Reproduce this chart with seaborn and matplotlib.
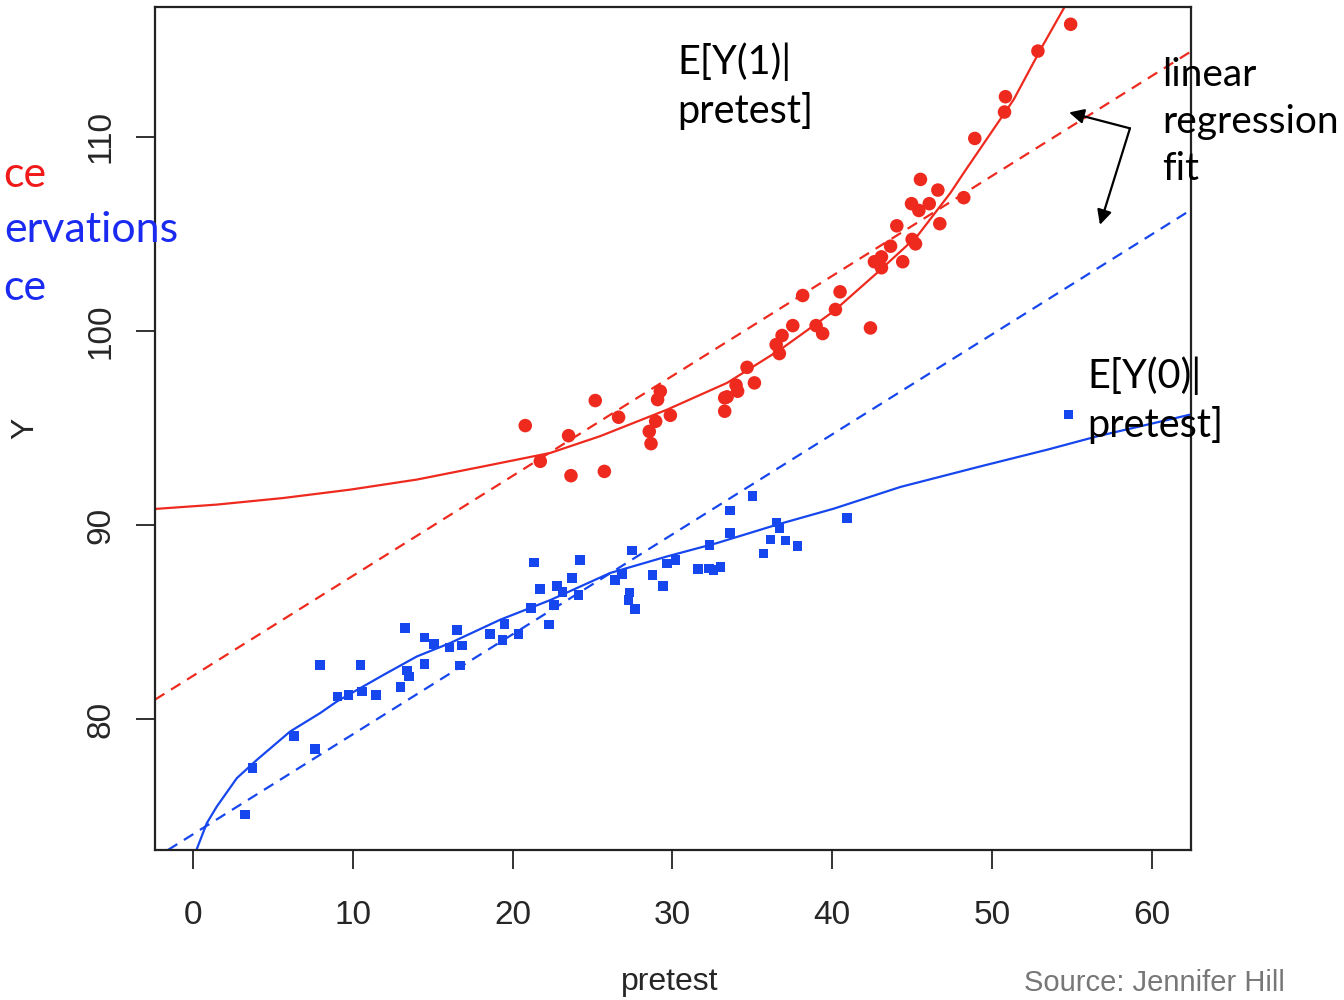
import numpy as np
import pandas as pd
import matplotlib
matplotlib.use("Agg")
import matplotlib.pyplot as plt
import seaborn as sns

# ---------------- data ----------------
treated_pretest = [20.79, 21.73, 23.50, 23.65, 25.17, 25.74, 26.63, 28.66, 28.55, 28.95,
                   29.07, 29.24, 29.87, 33.27, 33.27, 33.42, 34.08, 33.98, 34.67, 35.13,
                   36.69, 36.49, 36.86, 37.53, 38.99, 39.40, 38.15, 40.20, 40.49, 42.39,
                   42.64, 43.08, 43.08, 43.65, 44.04, 44.41, 45.00, 45.21, 44.96, 45.42,
                   45.52, 46.07, 46.61, 46.73, 48.23, 48.92, 50.78, 50.84, 52.87, 54.92]
treated_y = [95.12, 93.28, 94.60, 92.54, 96.41, 92.76, 95.55, 94.19, 94.82, 95.34,
             96.46, 96.89, 95.65, 95.86, 96.55, 96.60, 96.89, 97.20, 98.12, 97.32,
             98.83, 99.29, 99.76, 100.27, 100.27, 99.86, 101.82, 101.10, 102.01, 100.15,
             103.56, 103.81, 103.25, 104.36, 105.41, 103.56, 104.71, 104.48, 106.55, 106.20,
             107.80, 106.55, 107.25, 105.52, 106.86, 109.91, 111.27, 112.06, 114.41, 115.79]

control_pretest = [3.24, 3.71, 6.32, 7.62, 7.93, 9.04, 9.72, 10.48, 10.56, 11.46,
                   12.98, 13.26, 13.38, 13.51, 14.48, 14.48, 15.09, 16.05, 16.53, 16.83,
                   16.72, 18.58, 19.37, 19.49, 20.37, 21.16, 21.73, 22.29, 21.33, 22.60,
                   22.79, 23.11, 23.71, 24.13, 24.23, 26.42, 26.84, 27.32, 27.26, 27.66,
                   27.47, 28.76, 29.41, 29.66, 30.20, 31.60, 32.29, 32.31, 32.58, 33.00,
                   33.61, 33.61, 35.02, 35.71, 36.13, 36.51, 36.71, 37.07, 37.82, 40.93,
                   54.79]
control_y = [75.08, 77.49, 79.14, 78.45, 82.78, 81.16, 81.24, 82.78, 81.42, 81.25,
             81.65, 84.71, 82.50, 82.20, 84.21, 82.84, 83.87, 83.69, 84.60, 83.79,
             82.76, 84.38, 84.09, 84.90, 84.38, 85.74, 86.70, 84.88, 88.07, 85.88,
             86.87, 86.55, 87.28, 86.41, 88.20, 87.18, 87.47, 86.53, 86.15, 85.67,
             88.69, 87.44, 86.87, 88.02, 88.20, 87.73, 87.76, 88.98, 87.68, 87.85,
             90.75, 89.60, 91.49, 88.54, 89.26, 90.12, 89.86, 89.21, 88.93, 90.36,
             95.69]

# true response surfaces E[Y(1)|pretest] and E[Y(0)|pretest]
ey1_pretest = [-2.49, 1.48, 5.65, 9.83, 14.01, 18.18, 22.35, 25.49, 29.66, 33.42,
               36.76, 40.09, 42.81, 45.32, 47.40, 48.23, 51.36, 53.04, 54.81]
ey1_y = [90.82, 91.05, 91.39, 91.82, 92.34, 93.02, 93.71, 94.58, 95.94, 97.32,
         99.04, 101.01, 102.99, 104.88, 107.11, 108.14, 111.92, 114.50, 117.08]

ey0_pretest = [0.23, 0.86, 1.48, 2.74, 3.99, 6.07, 7.95, 9.00, 11.92, 14.01,
               16.09, 19.22, 22.35, 26.11, 29.66, 32.79, 36.55, 40.09, 44.27, 49.28,
               53.46, 56.59, 59.72, 62.43]
ey0_y = [73.30, 74.64, 75.49, 76.96, 77.90, 79.36, 80.31, 80.91, 82.28, 83.23,
         83.92, 85.12, 86.13, 87.53, 88.38, 89.07, 90.02, 90.84, 91.96, 93.02,
         93.88, 94.57, 95.17, 95.69]

# linear regression fit (common slope, group intercepts)
fit_slope = 0.515
fit_intercept_treated = 82.23
fit_intercept_control = 74.07

x_ticks = [0, 10, 20, 30, 40, 50, 60]
y_ticks = [80, 90, 100, 110]

# arrow geometry (data units) for "linear regression fit" callout
arrow_vertex = (58.63, 110.43)
arrow_tips = [(54.82, 111.25), (56.75, 105.46)]

RED = "#EE2A1E"
BLUE = "#1646EE"

# ---------------- figure ----------------
sns.set_theme(style="white")
plt.rcParams["font.family"] = ["Liberation Sans", "DejaVu Sans"]

fig = plt.figure(figsize=(13.44, 10), dpi=100)
ax = fig.add_axes([155 / 1344, 150 / 1000, (1191 - 155) / 1344, (993 - 150) / 1000])

ax.set_xlim(-2.38, 62.45)
ax.set_ylim(73.26, 116.68)

df_t = pd.DataFrame({"pretest": treated_pretest, "Y": treated_y})
df_c = pd.DataFrame({"pretest": control_pretest, "Y": control_y})
df_1 = pd.DataFrame({"pretest": ey1_pretest, "Y": ey1_y})
df_0 = pd.DataFrame({"pretest": ey0_pretest, "Y": ey0_y})

sns.lineplot(data=df_1, x="pretest", y="Y", color=RED, lw=1.6, sort=False, ax=ax)
sns.lineplot(data=df_0, x="pretest", y="Y", color=BLUE, lw=1.6, sort=False, ax=ax)

ax.axline((0, fit_intercept_treated), slope=fit_slope, color=RED, lw=1.6,
          linestyle=(0, (5, 3.5)))
ax.axline((0, fit_intercept_control), slope=fit_slope, color=BLUE, lw=1.6,
          linestyle=(0, (5, 3.5)))

sns.scatterplot(data=df_t, x="pretest", y="Y", color=RED, marker="o", s=95,
                edgecolor="none", ax=ax, zorder=3)
sns.scatterplot(data=df_c, x="pretest", y="Y", color=BLUE, marker="s", s=48,
                edgecolor="none", ax=ax, zorder=3)

# axes styling (R base graphics look)
for sp in ax.spines.values():
    sp.set_color("#222222")
    sp.set_linewidth(1.6)
ax.set_xticks(x_ticks)
ax.set_yticks(y_ticks)
ax.set_xticklabels([str(v) for v in x_ticks])
ax.set_yticklabels([str(v) for v in y_ticks], rotation=90, va="center")
ax.tick_params(axis="x", direction="out", length=14, width=1.3, color="#222222",
               labelsize=24, pad=22, bottom=True)
ax.tick_params(axis="y", direction="out", length=14, width=1.3, color="#222222",
               labelsize=24, pad=14, left=True)
ax.set_xlabel("pretest", fontsize=23)
ax.set_ylabel("Y", fontsize=23)
ax.xaxis.set_label_coords(0.497, -0.139)
ax.yaxis.set_label_coords(-0.111, 0.5)

# annotations
ann_font = ["Lato", "DejaVu Sans"]
fig.text(677 / 1344, 1 - 42 / 1000, "E[Y(1)|\npretest]", fontsize=28.5, family=ann_font,
         ha="left", va="top", color="black", linespacing=1.38)
fig.text(1162 / 1344, 1 - 57 / 1000, "linear\nregression\nfit", fontsize=28,
         family=ann_font, ha="left", va="top", color="black", linespacing=1.38)
fig.text(1087 / 1344, 1 - 356 / 1000, "E[Y(0)|\npretest]", fontsize=28.5, family=ann_font,
         ha="left", va="top", color="black", linespacing=1.38)

for tip in arrow_tips:
    ax.annotate("", xy=tip, xytext=arrow_vertex,
                arrowprops=dict(arrowstyle="-|>", color="black", lw=1.6,
                                mutation_scale=22, shrinkA=0, shrinkB=0),
                annotation_clip=False)

# slide text at the left edge
fig.text(3 / 1344, 1 - 175 / 1000, "ce", fontsize=31, family=ann_font,
         ha="left", va="center", color="#F01A1A")
fig.text(178 / 1344, 1 - 230 / 1000, "ervations", fontsize=31, family=ann_font,
         ha="right", va="center", color="#1A2AF0")
fig.text(3 / 1344, 1 - 288 / 1000, "ce", fontsize=31, family=ann_font,
         ha="left", va="center", color="#1A2AF0")

fig.text(1285 / 1344, 1 - 983 / 1000, "Source: Jennifer Hill", fontsize=21,
         color="#777777", ha="right", va="center")

fig.savefig("out.png", dpi=100)
